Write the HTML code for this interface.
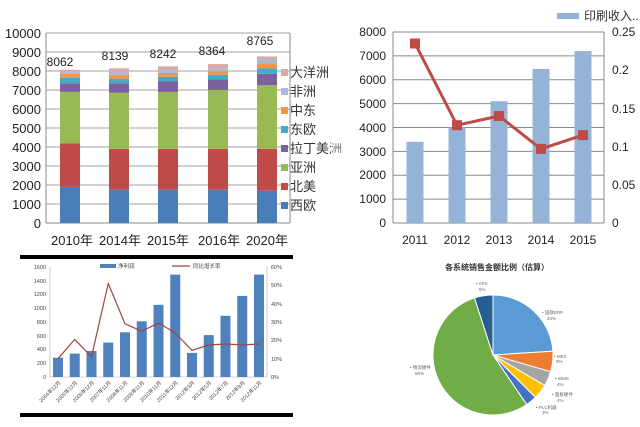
<!DOCTYPE html>
<html><head><meta charset="utf-8"><style>
html,body{margin:0;padding:0;background:#fff;}
svg{display:block;font-family:"Liberation Sans","Noto Sans CJK SC",sans-serif;}
</style></head><body>
<svg width="640" height="427" viewBox="0 0 640 427" xmlns="http://www.w3.org/2000/svg">
<rect width="640" height="427" fill="#fff"/>

<!-- Chart 1: top-left stacked -->
<g stroke="#a0a0a0" stroke-width="1">
<line x1="46" y1="33" x2="290" y2="33"/><line x1="46" y1="52" x2="290" y2="52"/><line x1="46" y1="71" x2="290" y2="71"/>
<line x1="46" y1="90" x2="290" y2="90"/><line x1="46" y1="109" x2="290" y2="109"/><line x1="46" y1="128" x2="290" y2="128"/>
<line x1="46" y1="147" x2="290" y2="147"/><line x1="46" y1="166" x2="290" y2="166"/><line x1="46" y1="185" x2="290" y2="185"/>
<line x1="46" y1="204" x2="290" y2="204"/>
</g>
<line x1="46" y1="33" x2="46" y2="223" stroke="#888"/>
<line x1="290" y1="33" x2="290" y2="223" stroke="#888"/>
<line x1="46" y1="223" x2="290" y2="223" stroke="#888"/>
<g>
<!-- 2010 -->
<rect x="60" y="186.9" width="20" height="36.1" fill="#4a7ebb"/>
<rect x="60" y="143.2" width="20" height="43.7" fill="#be4b48"/>
<rect x="60" y="91.9" width="20" height="51.3" fill="#98b954"/>
<rect x="60" y="83.35" width="20" height="8.55" fill="#7d60a0"/>
<rect x="60" y="77.65" width="20" height="5.7" fill="#46aac5"/>
<rect x="60" y="73.85" width="20" height="3.8" fill="#f79646"/>
<rect x="60" y="71.95" width="20" height="1.9" fill="#aab8dc"/>
<rect x="60" y="69.8" width="20" height="2.15" fill="#d9a8a8"/>
<!-- 2014 -->
<rect x="109" y="189.75" width="20" height="33.25" fill="#4a7ebb"/>
<rect x="109" y="148.9" width="20" height="40.85" fill="#be4b48"/>
<rect x="109" y="92.85" width="20" height="56.05" fill="#98b954"/>
<rect x="109" y="83.35" width="20" height="9.5" fill="#7d60a0"/>
<rect x="109" y="78.6" width="20" height="4.75" fill="#46aac5"/>
<rect x="109" y="74.8" width="20" height="3.8" fill="#f79646"/>
<rect x="109" y="71.95" width="20" height="2.85" fill="#aab8dc"/>
<rect x="109" y="68.36" width="20" height="3.59" fill="#d9a8a8"/>
<!-- 2015 -->
<rect x="158" y="189.75" width="20" height="33.25" fill="#4a7ebb"/>
<rect x="158" y="148.9" width="20" height="40.85" fill="#be4b48"/>
<rect x="158" y="91.9" width="20" height="57" fill="#98b954"/>
<rect x="158" y="81.45" width="20" height="10.45" fill="#7d60a0"/>
<rect x="158" y="76.7" width="20" height="4.75" fill="#46aac5"/>
<rect x="158" y="72.9" width="20" height="3.8" fill="#f79646"/>
<rect x="158" y="70.05" width="20" height="2.85" fill="#aab8dc"/>
<rect x="158" y="66.4" width="20" height="3.65" fill="#d9a8a8"/>
<!-- 2016 -->
<rect x="208" y="189.75" width="20" height="33.25" fill="#4a7ebb"/>
<rect x="208" y="148.9" width="20" height="40.85" fill="#be4b48"/>
<rect x="208" y="90" width="20" height="58.9" fill="#98b954"/>
<rect x="208" y="79.55" width="20" height="10.45" fill="#7d60a0"/>
<rect x="208" y="74.8" width="20" height="4.75" fill="#46aac5"/>
<rect x="208" y="71" width="20" height="3.8" fill="#f79646"/>
<rect x="208" y="68.15" width="20" height="2.85" fill="#aab8dc"/>
<rect x="208" y="64.1" width="20" height="4.05" fill="#d9a8a8"/>
<!-- 2020 -->
<rect x="257" y="190.7" width="20" height="32.3" fill="#4a7ebb"/>
<rect x="257" y="148.9" width="20" height="41.8" fill="#be4b48"/>
<rect x="257" y="85.25" width="20" height="63.65" fill="#98b954"/>
<rect x="257" y="73.85" width="20" height="11.4" fill="#7d60a0"/>
<rect x="257" y="68.15" width="20" height="5.7" fill="#46aac5"/>
<rect x="257" y="63.4" width="20" height="4.75" fill="#f79646"/>
<rect x="257" y="59.6" width="20" height="3.8" fill="#aab8dc"/>
<rect x="257" y="56.5" width="20" height="3.1" fill="#d9a8a8"/>
</g>
<g font-size="13" fill="#222" text-anchor="end">
<text x="41" y="38">10000</text><text x="41" y="57">9000</text><text x="41" y="76">8000</text><text x="41" y="95">7000</text>
<text x="41" y="114">6000</text><text x="41" y="133">5000</text><text x="41" y="152">4000</text><text x="41" y="171">3000</text>
<text x="41" y="190">2000</text><text x="41" y="209">1000</text><text x="41" y="228">0</text>
</g>
<g font-size="12" fill="#222" text-anchor="middle">
<text x="60" y="66">8062</text><text x="115" y="60">8139</text><text x="163" y="58">8242</text><text x="212" y="55">8364</text><text x="260" y="45">8765</text>
</g>
<g font-size="13" fill="#222" text-anchor="middle">
<text x="72" y="245">2010年</text><text x="120" y="245">2014年</text><text x="168" y="245">2015年</text><text x="219" y="245">2016年</text><text x="267" y="245">2020年</text>
</g>
<g font-size="13" fill="#333">
<rect x="281" y="69" width="7" height="7" fill="#d9a8a8"/><text x="290" y="77">大洋洲</text>
<rect x="281" y="88" width="7" height="7" fill="#aab8dc"/><text x="290" y="96">非洲</text>
<rect x="281" y="107" width="7" height="7" fill="#f79646"/><text x="290" y="115">中东</text>
<rect x="281" y="126" width="7" height="7" fill="#46aac5"/><text x="290" y="134">东欧</text>
<rect x="281" y="145" width="7" height="7" fill="#7d60a0"/><text x="290" y="153">拉丁美洲</text>
<rect x="281" y="164" width="7" height="7" fill="#98b954"/><text x="290" y="172">亚洲</text>
<rect x="281" y="183" width="7" height="7" fill="#be4b48"/><text x="290" y="191">北美</text>
<rect x="281" y="202" width="7" height="7" fill="#4a7ebb"/><text x="290" y="210">西欧</text>
</g>

<!-- Chart 2: top-right -->
<rect x="331" y="0" width="309" height="250" fill="#fff"/>
<g stroke="#888" stroke-width="1">
<line x1="393" y1="32" x2="604" y2="32"/><line x1="393" y1="55.9" x2="604" y2="55.9"/><line x1="393" y1="79.75" x2="604" y2="79.75"/>
<line x1="393" y1="103.6" x2="604" y2="103.6"/><line x1="393" y1="127.5" x2="604" y2="127.5"/><line x1="393" y1="151.4" x2="604" y2="151.4"/>
<line x1="393" y1="175.25" x2="604" y2="175.25"/><line x1="393" y1="199.1" x2="604" y2="199.1"/><line x1="393" y1="223" x2="604" y2="223"/>
<line x1="393" y1="32" x2="393" y2="223"/><line x1="604" y1="32" x2="604" y2="223"/>
</g>
<g fill="#95b3d7">
<rect x="406.5" y="141.8" width="17" height="81.2"/>
<rect x="448.5" y="127.5" width="17" height="95.5"/>
<rect x="490.5" y="101.2" width="17" height="121.8"/>
<rect x="532.5" y="69" width="17" height="154"/>
<rect x="574.5" y="51.1" width="17" height="171.9"/>
</g>
<polyline points="415,43.5 457,125.2 499,116 541,148.9 583,135.1" fill="none" stroke="#be4b48" stroke-width="3"/>
<g fill="#be4b48">
<rect x="410" y="38.5" width="10" height="10"/><rect x="452" y="120.2" width="10" height="10"/><rect x="494" y="111" width="10" height="10"/>
<rect x="536" y="143.9" width="10" height="10"/><rect x="578" y="130.1" width="10" height="10"/>
</g>
<g font-size="12" fill="#222" text-anchor="end">
<text x="386" y="36">8000</text><text x="386" y="60">7000</text><text x="386" y="84">6000</text><text x="386" y="108">5000</text>
<text x="386" y="132">4000</text><text x="386" y="156">3000</text><text x="386" y="179">2000</text><text x="386" y="203">1000</text><text x="386" y="227">0</text>
</g>
<g font-size="12" fill="#222">
<text x="612" y="36">0.25</text><text x="612" y="74">0.2</text><text x="612" y="113">0.15</text><text x="612" y="151">0.1</text><text x="612" y="189">0.05</text><text x="612" y="227">0</text>
</g>
<g font-size="12" fill="#222" text-anchor="middle">
<text x="415" y="244">2011</text><text x="457" y="244">2012</text><text x="499" y="244">2013</text><text x="541" y="244">2014</text><text x="583" y="244">2015</text>
</g>
<rect x="557" y="13" width="22" height="6" fill="#95b3d7"/>
<text x="584" y="20" font-size="12" fill="#333">印刷收入..</text>
<text x="331" y="152" font-size="11" fill="#777">洲</text>

<!-- Chart 3: bottom-left -->
<rect x="20" y="255" width="273" height="4" fill="#000"/>
<rect x="20" y="413" width="273" height="4" fill="#000"/>
<line x1="50" y1="267" x2="50" y2="377" stroke="#aaa" stroke-width="0.6"/>
<line x1="267" y1="267" x2="267" y2="377" stroke="#aaa" stroke-width="0.6"/>
<line x1="50" y1="377" x2="267" y2="377" stroke="#aaa" stroke-width="0.6"/>
<g fill="#4f81bd">
<rect x="53" y="357.75" width="10" height="19.25"/><rect x="69.75" y="353.6" width="10" height="23.4"/><rect x="86.5" y="350.9" width="10" height="26.1"/>
<rect x="103.25" y="342.6" width="10" height="34.4"/><rect x="120" y="332.3" width="10" height="44.7"/><rect x="136.75" y="321.3" width="10" height="55.7"/>
<rect x="153.5" y="304.8" width="10" height="72.2"/><rect x="170.25" y="274.6" width="10" height="102.4"/><rect x="187" y="352.9" width="10" height="24.1"/>
<rect x="203.75" y="335.1" width="10" height="41.9"/><rect x="220.5" y="315.8" width="10" height="61.2"/><rect x="237.25" y="295.9" width="10" height="81.1"/>
<rect x="254" y="274.6" width="10" height="102.4"/>
</g>
<polyline points="58,358.7 74.75,339.4 91.5,356.8 108.25,283.5 125,323.8 141.75,331.2 158.5,322.9 175.25,333 192,350.4 208.75,344.9 225.5,344 242.25,344.9 259,344" fill="none" stroke="#a04545" stroke-width="1.2"/>
<g font-size="5.5" fill="#444" text-anchor="end">
<text x="46" y="269">1600</text><text x="46" y="283">1400</text><text x="46" y="296">1200</text><text x="46" y="310">1000</text>
<text x="46" y="324">800</text><text x="46" y="338">600</text><text x="46" y="351">400</text><text x="46" y="365">200</text><text x="46" y="379">0</text>
</g>
<g font-size="5.5" fill="#444">
<text x="271" y="269">60%</text><text x="271" y="287">50%</text><text x="271" y="306">40%</text><text x="271" y="324">30%</text>
<text x="271" y="342">20%</text><text x="271" y="361">10%</text><text x="271" y="379">0%</text>
</g>
<rect x="100" y="264" width="16" height="4" fill="#4f81bd"/>
<text x="118" y="268" font-size="5.5" fill="#444">净利润</text>
<line x1="172" y1="266" x2="190" y2="266" stroke="#a04545" stroke-width="1.2"/>
<text x="193" y="268" font-size="5.5" fill="#444">同比增长率</text>
<g font-size="5.2" fill="#444" text-anchor="end">
<text transform="translate(61,383) rotate(-45)">2004年12月</text>
<text transform="translate(77.75,383) rotate(-45)">2005年12月</text>
<text transform="translate(94.5,383) rotate(-45)">2006年12月</text>
<text transform="translate(111.25,383) rotate(-45)">2007年11月</text>
<text transform="translate(128,383) rotate(-45)">2008年11月</text>
<text transform="translate(144.75,383) rotate(-45)">2009年11月</text>
<text transform="translate(161.5,383) rotate(-45)">2010年11月</text>
<text transform="translate(178.25,383) rotate(-45)">2011年12月</text>
<text transform="translate(195,383) rotate(-45)">2012年3月</text>
<text transform="translate(211.75,383) rotate(-45)">2012年5月</text>
<text transform="translate(228.5,383) rotate(-45)">2012年7月</text>
<text transform="translate(245.25,383) rotate(-45)">2012年9月</text>
<text transform="translate(262,383) rotate(-45)">2012年11月</text>
</g>

<!-- Chart 4: pie -->
<text x="497" y="270" font-size="8" font-weight="bold" fill="#333" text-anchor="middle">各系统销售金额比例（估算）</text>
<g stroke="#fff" stroke-width="1">
<path d="M493,355 L493,295 A60,60 0 0 1 552.9,351.2 Z" fill="#5b9bd5"/>
<path d="M493,355 L552.9,351.2 A60,60 0 0 1 550.6,371.7 Z" fill="#ed7d31"/>
<path d="M493,355 L550.6,371.7 A60,60 0 0 1 544.7,385.5 Z" fill="#a5a5a5"/>
<path d="M493,355 L544.7,385.5 A60,60 0 0 1 535.4,397.4 Z" fill="#ffc000"/>
<path d="M493,355 L535.4,397.4 A60,60 0 0 1 526.7,404.6 Z" fill="#4472c4"/>
<path d="M493,355 L526.7,404.6 A60,60 0 1 1 474.5,297.9 Z" fill="#70ad47"/>
<path d="M493,355 L474.5,297.9 A60,60 0 0 1 493,295 Z" fill="#255e91"/>
</g>
<g font-size="4.5" fill="#666">
<text x="476" y="285">• APS</text><text x="479" y="291">5%</text>
<text x="542" y="314">• 国联ERP</text><text x="547" y="320">24%</text>
<text x="554" y="358">• MES</text><text x="556" y="363">5%</text>
<text x="555" y="380">• WMS</text><text x="557" y="386">4%</text>
<text x="552" y="396">• 面板硬件</text><text x="557" y="402">4%</text>
<text x="536" y="409">• PLC机器</text><text x="542" y="414">3%</text>
<text x="410" y="369">• 物流硬件</text><text x="415" y="375">55%</text>
</g>
</svg>
</body></html>
